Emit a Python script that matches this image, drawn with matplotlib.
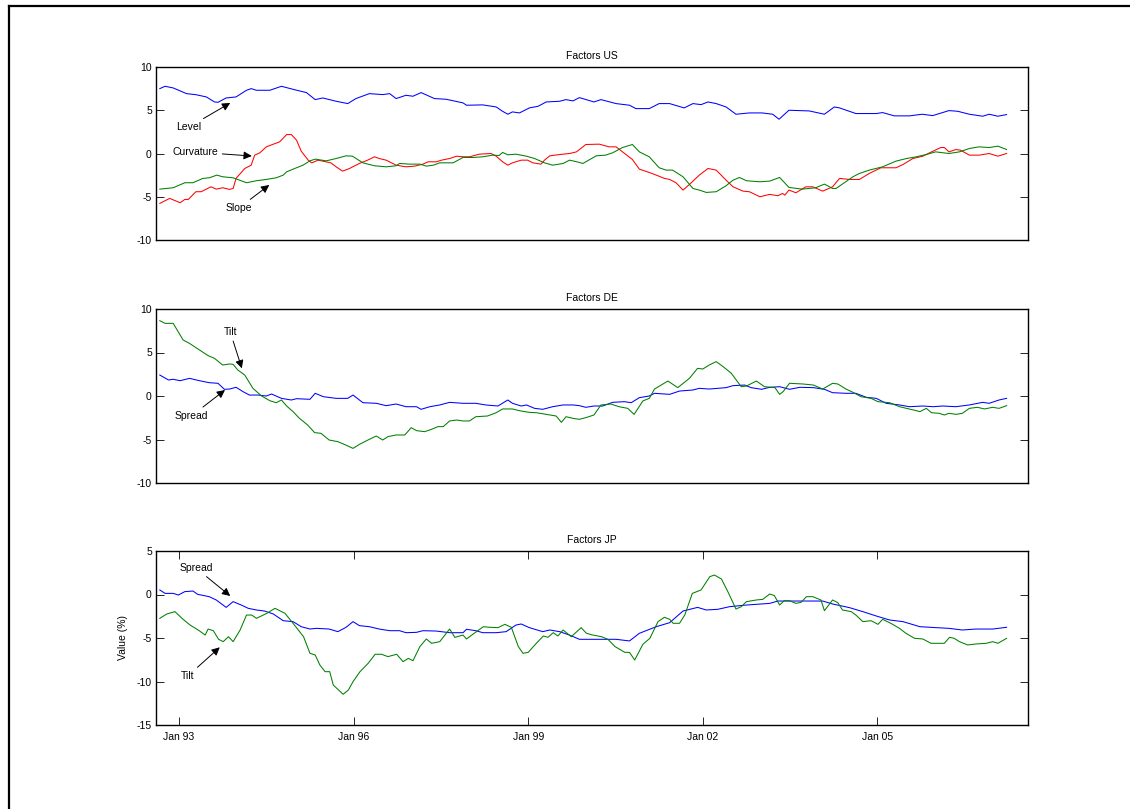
import matplotlib
matplotlib.use("Agg")
import matplotlib.pyplot as plt
from matplotlib.lines import Line2D

plt.rcParams['font.family'] = ['Liberation Sans', 'DejaVu Sans']
plt.rcParams['font.size'] = 7.5
plt.rcParams['axes.unicode_minus'] = False

# ---- data (decimal years, values in %) ----
us_level_t = [1992.67, 1992.76, 1992.90, 1993.13, 1993.29, 1993.47, 1993.61, 1993.67, 1993.81, 1993.98,
              1994.16, 1994.24, 1994.33, 1994.56, 1994.76, 1994.96, 1995.19, 1995.34, 1995.47, 1995.70,
              1995.90, 1996.04, 1996.27, 1996.50, 1996.62, 1996.73, 1996.90, 1997.02, 1997.16, 1997.39,
              1997.59, 1997.88, 1997.94, 1998.22, 1998.45, 1998.56, 1998.65, 1998.73, 1998.85, 1999.02,
              1999.17, 1999.31, 1999.54, 1999.65, 1999.77, 1999.88, 2000.13, 2000.25, 2000.51, 2000.74,
              2000.85, 2001.08, 2001.25, 2001.43, 2001.68, 2001.83, 2001.97, 2002.09, 2002.23, 2002.40,
              2002.57, 2002.80, 2003.02, 2003.20, 2003.31, 2003.48, 2003.83, 2004.09, 2004.26, 2004.35,
              2004.63, 2004.98, 2005.09, 2005.29, 2005.55, 2005.77, 2005.95, 2006.23, 2006.38, 2006.58,
              2006.81, 2006.92, 2007.07, 2007.22]
us_level = [7.50, 7.77, 7.58, 6.92, 6.80, 6.54, 5.96, 5.92, 6.42, 6.54,
            7.31, 7.50, 7.31, 7.31, 7.77, 7.42, 7.04, 6.23, 6.42, 6.04,
            5.77, 6.35, 6.92, 6.81, 6.92, 6.35, 6.73, 6.62, 7.04, 6.35,
            6.27, 5.85, 5.58, 5.62, 5.38, 4.88, 4.54, 4.81, 4.69, 5.27,
            5.46, 5.96, 6.04, 6.23, 6.08, 6.46, 5.96, 6.23, 5.77, 5.58,
            5.19, 5.19, 5.77, 5.77, 5.27, 5.77, 5.65, 5.96, 5.77, 5.38,
            4.54, 4.69, 4.69, 4.54, 3.96, 5.00, 4.92, 4.54, 5.38, 5.27,
            4.62, 4.62, 4.73, 4.35, 4.35, 4.54, 4.38, 4.96, 4.88, 4.54,
            4.31, 4.54, 4.31, 4.50]

us_curv_t = [1992.67, 1992.84, 1993.02, 1993.10, 1993.16, 1993.29, 1993.38, 1993.55, 1993.64, 1993.75,
             1993.87, 1993.93, 1993.98, 1994.13, 1994.24, 1994.30, 1994.39, 1994.50, 1994.73, 1994.85,
             1994.93, 1995.02, 1995.10, 1995.22, 1995.28, 1995.39, 1995.61, 1995.70, 1995.81, 1995.93,
             1996.10, 1996.24, 1996.36, 1996.44, 1996.56, 1996.73, 1996.90, 1997.05, 1997.19, 1997.28,
             1997.42, 1997.51, 1997.65, 1997.77, 1997.88, 1997.99, 1998.16, 1998.36, 1998.45, 1998.56,
             1998.65, 1998.73, 1998.88, 1998.99, 1999.08, 1999.22, 1999.28, 1999.37, 1999.54, 1999.71,
             1999.83, 1999.99, 2000.22, 2000.39, 2000.51, 2000.62, 2000.79, 2000.91, 2001.08, 2001.20,
             2001.34, 2001.43, 2001.54, 2001.66, 2001.77, 2001.94, 2002.09, 2002.23, 2002.40, 2002.52,
             2002.69, 2002.80, 2002.98, 2003.15, 2003.29, 2003.37, 2003.41, 2003.48, 2003.60, 2003.77,
             2003.89, 2004.06, 2004.23, 2004.35, 2004.52, 2004.69, 2004.86, 2005.06, 2005.15, 2005.32,
             2005.44, 2005.61, 2005.78, 2005.93, 2006.09, 2006.15, 2006.23, 2006.35, 2006.43, 2006.58,
             2006.75, 2006.92, 2007.07, 2007.22]
us_curv = [-5.77, -5.19, -5.69, -5.31, -5.31, -4.42, -4.42, -3.85, -4.12, -3.96,
           -4.15, -4.04, -2.88, -1.73, -1.35, -0.19, 0.08, 0.77, 1.35, 2.19,
           2.19, 1.54, 0.27, -0.77, -1.08, -0.77, -1.08, -1.54, -2.04, -1.73,
           -1.15, -0.77, -0.38, -0.58, -0.77, -1.35, -1.54, -1.46, -1.23, -0.96,
           -0.96, -0.77, -0.58, -0.31, -0.38, -0.38, -0.08, 0.00, -0.31, -0.96,
           -1.35, -1.08, -0.77, -0.77, -1.08, -1.23, -0.77, -0.27, -0.12, 0.00,
           0.19, 1.04, 1.08, 0.77, 0.77, 0.19, -0.69, -1.81, -2.19, -2.50,
           -2.88, -3.00, -3.38, -4.23, -3.58, -2.50, -1.73, -1.92, -3.08, -3.85,
           -4.35, -4.42, -5.00, -4.73, -4.88, -4.62, -4.81, -4.23, -4.54, -3.85,
           -3.85, -4.35, -3.85, -2.88, -3.00, -3.00, -2.31, -1.65, -1.65, -1.65,
           -1.27, -0.58, -0.31, 0.19, 0.69, 0.69, 0.19, 0.46, 0.38, -0.19,
           -0.19, 0.00, -0.31, 0.00]

us_slope_t = [1992.67, 1992.90, 1993.10, 1993.24, 1993.41, 1993.52, 1993.65, 1993.75, 1993.93, 1994.16,
              1994.33, 1994.50, 1994.67, 1994.79, 1994.85, 1994.96, 1995.13, 1995.25, 1995.34, 1995.53,
              1995.70, 1995.87, 1995.98, 1996.16, 1996.36, 1996.56, 1996.73, 1996.79, 1996.96, 1997.14,
              1997.25, 1997.37, 1997.48, 1997.71, 1997.88, 1998.05, 1998.22, 1998.39, 1998.50, 1998.56,
              1998.65, 1998.79, 1998.97, 1999.11, 1999.28, 1999.42, 1999.60, 1999.71, 1999.83, 1999.94,
              2000.17, 2000.33, 2000.45, 2000.62, 2000.79, 2000.91, 2001.08, 2001.25, 2001.37, 2001.48,
              2001.66, 2001.83, 2001.94, 2002.06, 2002.23, 2002.40, 2002.52, 2002.63, 2002.75, 2002.98,
              2003.15, 2003.32, 2003.48, 2003.71, 2003.94, 2004.09, 2004.23, 2004.29, 2004.58, 2004.69,
              2004.86, 2005.09, 2005.32, 2005.50, 2005.67, 2005.84, 2006.00, 2006.23, 2006.41, 2006.58,
              2006.75, 2006.92, 2007.07, 2007.22]
us_slope = [-4.12, -3.96, -3.38, -3.38, -2.88, -2.81, -2.50, -2.69, -2.81, -3.38,
            -3.15, -3.00, -2.81, -2.50, -2.12, -1.81, -1.35, -0.85, -0.65, -0.85,
            -0.58, -0.27, -0.31, -1.08, -1.42, -1.54, -1.42, -1.15, -1.23, -1.23,
            -1.46, -1.35, -1.08, -1.08, -0.46, -0.46, -0.38, -0.19, -0.23, 0.12,
            -0.15, -0.08, -0.31, -0.58, -1.08, -1.35, -1.15, -0.77, -0.95, -1.15,
            -0.27, -0.19, 0.08, 0.69, 1.04, 0.19, -0.38, -1.65, -1.92, -1.92,
            -2.69, -4.04, -4.23, -4.50, -4.42, -3.73, -3.08, -2.77, -3.15, -3.27,
            -3.19, -2.77, -3.92, -4.12, -3.96, -3.54, -4.04, -4.04, -2.69, -2.31,
            -1.92, -1.54, -0.88, -0.58, -0.38, -0.12, 0.19, 0.00, 0.19, 0.58,
            0.77, 0.69, 0.85, 0.46]

de_tilt_t = [1992.67, 1992.76, 1992.90, 1993.07, 1993.18, 1993.29, 1993.38, 1993.50, 1993.61, 1993.75,
             1993.87, 1993.93, 1994.01, 1994.13, 1994.27, 1994.42, 1994.56, 1994.67, 1994.76, 1994.85,
             1994.96, 1995.07, 1995.21, 1995.33, 1995.44, 1995.58, 1995.73, 1995.84, 1995.99, 1996.10,
             1996.27, 1996.39, 1996.50, 1996.59, 1996.73, 1996.88, 1996.99, 1997.08, 1997.22, 1997.34,
             1997.45, 1997.54, 1997.65, 1997.77, 1997.88, 1997.99, 1998.10, 1998.30, 1998.45, 1998.56,
             1998.73, 1998.85, 1999.02, 1999.14, 1999.31, 1999.48, 1999.57, 1999.65, 1999.77, 1999.88,
             1999.99, 2000.13, 2000.25, 2000.42, 2000.56, 2000.71, 2000.82, 2000.97, 2001.08, 2001.17,
             2001.40, 2001.57, 2001.77, 2001.91, 2002.00, 2002.11, 2002.23, 2002.35, 2002.49, 2002.66,
             2002.75, 2002.92, 2003.06, 2003.24, 2003.32, 2003.38, 2003.49, 2003.72, 2003.90, 2004.06,
             2004.23, 2004.32, 2004.46, 2004.58, 2004.72, 2004.89, 2005.01, 2005.21, 2005.38, 2005.50,
             2005.67, 2005.73, 2005.84, 2005.93, 2006.06, 2006.15, 2006.23, 2006.35, 2006.46, 2006.58,
             2006.72, 2006.84, 2006.98, 2007.09, 2007.22]
de_tilt = [8.66, 8.35, 8.35, 6.44, 6.05, 5.56, 5.17, 4.64, 4.33, 3.56,
           3.68, 3.64, 2.99, 2.41, 0.88, 0.00, -0.54, -0.77, -0.46, -1.15,
           -1.80, -2.57, -3.33, -4.21, -4.29, -5.06, -5.25, -5.56, -6.02, -5.56,
           -4.98, -4.60, -5.06, -4.67, -4.48, -4.48, -3.64, -3.98, -4.10, -3.83,
           -3.52, -3.52, -2.87, -2.76, -2.87, -2.87, -2.38, -2.30, -1.92, -1.49,
           -1.49, -1.69, -1.88, -1.92, -2.11, -2.30, -3.03, -2.38, -2.57, -2.68,
           -2.49, -2.18, -1.03, -0.92, -1.23, -1.42, -2.11, -0.57, -0.27, 0.80,
           1.72, 0.96, 2.03, 3.18, 3.10, 3.56, 3.95, 3.37, 2.61, 1.07,
           1.15, 1.72, 1.07, 0.96, 0.19, 0.50, 1.46, 1.38, 1.26, 0.80,
           1.46, 1.38, 0.80, 0.42, -0.08, -0.27, -0.65, -0.77, -1.23, -1.42,
           -1.69, -1.80, -1.42, -1.92, -1.99, -2.18, -1.99, -2.11, -1.99, -1.42,
           -1.30, -1.49, -1.30, -1.42, -1.11]

de_spread_t = [1992.67, 1992.82, 1992.90, 1993.02, 1993.18, 1993.35, 1993.52, 1993.67, 1993.78, 1993.87,
               1993.98, 1994.10, 1994.21, 1994.36, 1994.50, 1994.59, 1994.76, 1994.93, 1995.02, 1995.25,
               1995.34, 1995.48, 1995.70, 1995.90, 1995.99, 1996.16, 1996.39, 1996.56, 1996.73, 1996.90,
               1997.08, 1997.16, 1997.31, 1997.48, 1997.65, 1997.88, 1998.10, 1998.27, 1998.48, 1998.65,
               1998.73, 1998.88, 1998.97, 1999.11, 1999.25, 1999.42, 1999.60, 1999.77, 1999.88, 1999.99,
               2000.13, 2000.28, 2000.45, 2000.65, 2000.77, 2000.91, 2001.08, 2001.17, 2001.43, 2001.60,
               2001.83, 2001.94, 2002.11, 2002.40, 2002.52, 2002.72, 2002.83, 2003.01, 2003.15, 2003.32,
               2003.49, 2003.67, 2003.90, 2004.09, 2004.23, 2004.46, 2004.63, 2004.81, 2004.98, 2005.15,
               2005.38, 2005.55, 2005.78, 2005.96, 2006.12, 2006.35, 2006.58, 2006.81, 2006.92, 2007.09,
               2007.22]
de_spread = [2.41, 1.84, 1.92, 1.76, 2.03, 1.76, 1.53, 1.46, 0.77, 0.80,
             1.00, 0.50, 0.11, 0.11, 0.00, 0.23, -0.27, -0.46, -0.31, -0.38,
             0.31, -0.08, -0.27, -0.27, 0.11, -0.77, -0.84, -1.11, -0.92, -1.23,
             -1.23, -1.53, -1.23, -1.03, -0.73, -0.84, -0.84, -1.03, -1.15, -0.46,
             -0.84, -1.15, -1.03, -1.42, -1.53, -1.23, -1.03, -1.03, -1.11, -1.30,
             -1.15, -1.15, -0.73, -0.65, -0.77, -0.19, 0.00, 0.31, 0.19, 0.57,
             0.69, 0.88, 0.80, 0.96, 1.19, 1.26, 0.96, 0.77, 1.00, 1.07,
             0.77, 1.00, 0.96, 0.77, 0.38, 0.31, 0.31, -0.15, -0.27, -0.84,
             -1.03, -1.23, -1.15, -1.23, -1.15, -1.23, -1.03, -0.73, -0.84, -0.46,
             -0.27]

jp_spread_t = [1992.67, 1992.76, 1992.90, 1992.99, 1993.10, 1993.24, 1993.32, 1993.52, 1993.64, 1993.81,
               1993.93, 1994.07, 1994.19, 1994.33, 1994.47, 1994.62, 1994.79, 1994.96, 1995.10, 1995.25,
               1995.36, 1995.58, 1995.73, 1995.87, 1995.99, 1996.10, 1996.27, 1996.44, 1996.62, 1996.79,
               1996.90, 1997.08, 1997.19, 1997.42, 1997.65, 1997.88, 1997.94, 1998.10, 1998.22, 1998.45,
               1998.62, 1998.79, 1998.88, 1999.02, 1999.25, 1999.37, 1999.54, 1999.71, 1999.88, 2000.17,
               2000.51, 2000.74, 2000.91, 2001.20, 2001.43, 2001.66, 2001.91, 2002.06, 2002.26, 2002.46,
               2002.75, 2003.15, 2003.29, 2003.49, 2003.83, 2004.06, 2004.23, 2004.52, 2004.75, 2004.98,
               2005.21, 2005.44, 2005.73, 2006.01, 2006.23, 2006.46, 2006.69, 2006.98, 2007.22]
jp_spread = [0.52, 0.13, 0.13, -0.06, 0.33, 0.40, 0.02, -0.25, -0.63, -1.48,
             -0.82, -1.21, -1.59, -1.78, -1.90, -2.24, -3.01, -3.12, -3.70, -3.97,
             -3.89, -3.97, -4.27, -3.77, -3.12, -3.58, -3.70, -3.97, -4.16, -4.16,
             -4.39, -4.35, -4.16, -4.20, -4.39, -4.39, -4.00, -4.16, -4.39, -4.39,
             -4.27, -3.51, -3.39, -3.81, -4.27, -4.08, -4.27, -4.66, -5.15, -5.15,
             -5.15, -5.34, -4.46, -3.70, -3.24, -1.90, -1.48, -1.78, -1.70, -1.40,
             -1.21, -1.02, -0.75, -0.75, -0.75, -0.75, -1.09, -1.51, -1.97, -2.47,
             -2.93, -3.12, -3.70, -3.81, -3.89, -4.08, -3.97, -3.97, -3.77]

jp_tilt_t = [1992.67, 1992.79, 1992.93, 1993.07, 1993.19, 1993.33, 1993.45, 1993.50, 1993.59, 1993.68,
             1993.76, 1993.85, 1993.93, 1994.05, 1994.16, 1994.25, 1994.33, 1994.51, 1994.65, 1994.82,
             1994.96, 1995.14, 1995.25, 1995.34, 1995.42, 1995.51, 1995.59, 1995.65, 1995.82, 1995.91,
             1995.99, 1996.11, 1996.25, 1996.37, 1996.48, 1996.59, 1996.74, 1996.85, 1996.94, 1997.02,
             1997.14, 1997.25, 1997.34, 1997.48, 1997.65, 1997.74, 1997.88, 1997.94, 1998.11, 1998.23,
             1998.34, 1998.48, 1998.60, 1998.71, 1998.83, 1998.91, 1999.00, 1999.14, 1999.26, 1999.34,
             1999.43, 1999.51, 1999.60, 1999.74, 1999.91, 2000.00, 2000.11, 2000.26, 2000.37, 2000.49,
             2000.66, 2000.74, 2000.83, 2000.97, 2001.09, 2001.23, 2001.34, 2001.43, 2001.49, 2001.60,
             2001.69, 2001.82, 2001.97, 2002.12, 2002.20, 2002.32, 2002.43, 2002.57, 2002.66, 2002.75,
             2002.92, 2003.03, 2003.15, 2003.23, 2003.32, 2003.40, 2003.49, 2003.60, 2003.69, 2003.78,
             2003.89, 2004.03, 2004.09, 2004.23, 2004.32, 2004.40, 2004.55, 2004.63, 2004.75, 2004.89,
             2005.01, 2005.09, 2005.23, 2005.38, 2005.49, 2005.64, 2005.78, 2005.92, 2006.15, 2006.24,
             2006.32, 2006.41, 2006.55, 2006.69, 2006.87, 2006.98, 2007.07, 2007.22]
jp_tilt = [-2.74, -2.24, -1.97, -2.85, -3.51, -4.08, -4.66, -3.97, -4.16, -5.15,
           -5.42, -4.85, -5.42, -4.08, -2.36, -2.36, -2.74, -2.16, -1.59, -2.16,
           -3.31, -4.85, -6.76, -6.95, -8.10, -8.87, -8.87, -10.40, -11.47, -10.98,
           -10.02, -8.87, -7.91, -6.87, -6.87, -7.14, -6.87, -7.72, -7.34, -7.61,
           -5.98, -5.11, -5.61, -5.42, -3.97, -4.93, -4.66, -5.11, -4.27, -3.70,
           -3.77, -3.81, -3.43, -3.77, -5.98, -6.76, -6.65, -5.61, -4.77, -4.92,
           -4.39, -4.77, -4.08, -4.85, -3.81, -4.46, -4.66, -4.85, -5.15, -5.98,
           -6.65, -6.65, -7.53, -5.73, -5.04, -3.12, -2.62, -2.85, -3.31, -3.31,
           -2.36, 0.13, 0.52, 2.05, 2.24, 1.78, 0.33, -1.67, -1.40, -0.82,
           -0.63, -0.56, 0.06, -0.13, -1.21, -0.71, -0.71, -1.02, -0.90, -0.25,
           -0.25, -0.63, -1.86, -0.63, -0.94, -1.78, -1.97, -2.36, -3.12, -3.01,
           -3.43, -2.85, -3.31, -3.89, -4.46, -5.04, -5.11, -5.61, -5.61, -4.92,
           -5.04, -5.42, -5.80, -5.69, -5.61, -5.42, -5.61, -5.04]

tick_years = [1993, 1996, 1999, 2002, 2005]
tick_labels = ["Jan 93", "Jan 96", "Jan 99", "Jan 02", "Jan 05"]

BLUE = (0, 0, 1)
RED = (1, 0, 0)
GREEN = (0, 0.5, 0)

fig = plt.figure(figsize=(11.30, 8.09), dpi=100)

# outer frame (only top and left edges are inside the picture)
fig.add_artist(Line2D([8.5 / 1130, 8.5 / 1130], [0, 1 - 5.5 / 809], color='k', lw=1.6,
                      transform=fig.transFigure))
fig.add_artist(Line2D([8.5 / 1130, 1], [1 - 5.5 / 809, 1 - 5.5 / 809], color='k', lw=1.6,
                      transform=fig.transFigure))

left, width = 156 / 1130, 872 / 1130
ax_us = fig.add_axes([left, 1 - 240 / 809, width, 173 / 809])
ax_de = fig.add_axes([left, 1 - 483 / 809, width, 174 / 809])
ax_jp = fig.add_axes([left, 1 - 725 / 809, width, 174 / 809])

xlim = (1993 - 23 / 58.2, 1993 + 849 / 58.2)
arrow = dict(arrowstyle='-|>', color='k', lw=0.7, mutation_scale=12, shrinkA=1, shrinkB=0)

for ax in (ax_us, ax_de, ax_jp):
    ax.set_xlim(*xlim)
    ax.tick_params(axis='y', direction='in', left=True, right=True, length=5.5, width=0.6,
                   labelsize=7.5, pad=3)
    for s in ax.spines.values():
        s.set_linewidth(1.0)

# US
ax_us.plot(us_level_t, us_level, color=BLUE, lw=0.75)
ax_us.plot(us_curv_t, us_curv, color=RED, lw=0.75)
ax_us.plot(us_slope_t, us_slope, color=GREEN, lw=0.75)
ax_us.set_ylim(-10, 10)
ax_us.set_yticks([-10, -5, 0, 5, 10])
ax_us.set_xticks([])
ax_us.set_title("Factors US", fontsize=7.5, pad=6)
ax_us.annotate("Level", xy=(1993.88, 5.84), xytext=(1993.17, 3.06), ha='center', va='center',
               fontsize=7.5, arrowprops=arrow)
ax_us.annotate("Curvature", xy=(1994.25, -0.29), xytext=(1993.28, 0.17), ha='center', va='center',
               fontsize=7.5, arrowprops=arrow)
ax_us.annotate("Slope", xy=(1994.55, -3.64), xytext=(1994.03, -6.3), ha='center', va='center',
               fontsize=7.5, arrowprops=arrow)

# DE
ax_de.plot(de_spread_t, de_spread, color=BLUE, lw=0.75)
ax_de.plot(de_tilt_t, de_tilt, color=GREEN, lw=0.75)
ax_de.set_ylim(-10, 10)
ax_de.set_yticks([-10, -5, 0, 5, 10])
ax_de.set_xticks([])
ax_de.set_title("Factors DE", fontsize=7.5, pad=6)
ax_de.annotate("Tilt", xy=(1994.08, 3.18), xytext=(1993.88, 7.36), ha='center', va='center',
               fontsize=7.5, arrowprops=arrow)
ax_de.annotate("Spread", xy=(1993.79, 0.69), xytext=(1993.22, -2.26), ha='center', va='center',
               fontsize=7.5, arrowprops=arrow)

# JP
ax_jp.plot(jp_spread_t, jp_spread, color=BLUE, lw=0.75)
ax_jp.plot(jp_tilt_t, jp_tilt, color=GREEN, lw=0.75)
ax_jp.set_ylim(-15, 5)
ax_jp.set_yticks([-15, -10, -5, 0, 5])
ax_jp.set_xticks(tick_years)
ax_jp.set_xticklabels(tick_labels)
ax_jp.tick_params(axis='x', direction='in', top=True, bottom=True, length=5.5, width=0.6,
                  labelsize=7.5, pad=5)
ax_jp.set_title("Factors JP", fontsize=7.5, pad=6)
ax_jp.set_ylabel("Value (%)", fontsize=7.5, labelpad=6)
ax_jp.annotate("Spread", xy=(1993.88, -0.17), xytext=(1993.29, 3.05), ha='center', va='center',
               fontsize=7.5, arrowprops=arrow)
ax_jp.annotate("Tilt", xy=(1993.70, -6.07), xytext=(1993.15, -9.37), ha='center', va='center',
               fontsize=7.5, arrowprops=arrow)

fig.savefig("out.png", dpi=100)
